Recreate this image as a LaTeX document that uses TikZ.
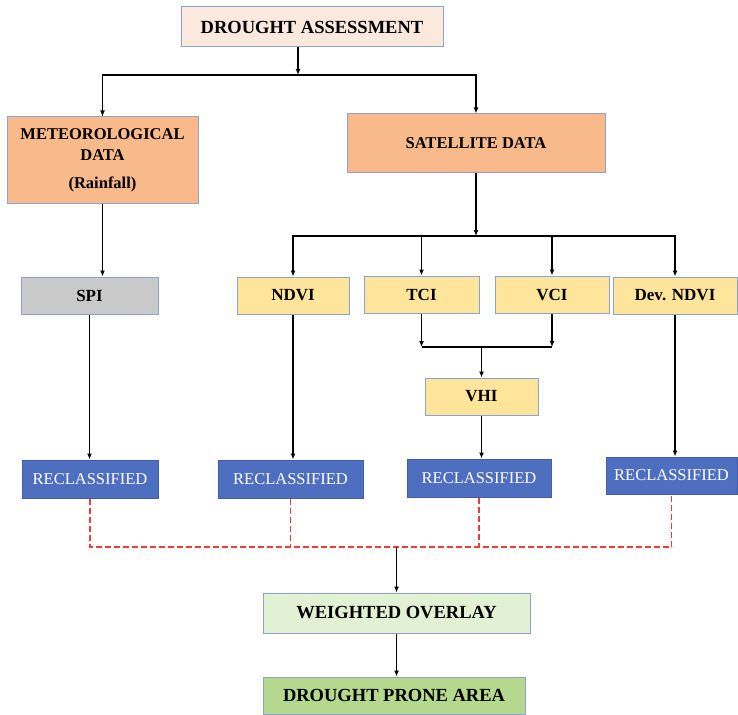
\documentclass[tikz,border=0pt]{standalone}
\usepackage{fontspec}
\setmainfont{Liberation Serif}
\usetikzlibrary{arrows.meta,calc}
\definecolor{edgeBlue}{HTML}{8EA2D0}
\definecolor{peach}{HTML}{FCE9DE}
\definecolor{orange}{HTML}{F8B98B}
\definecolor{stone}{HTML}{C9C9C9}
\definecolor{butter}{HTML}{FFE59B}
\definecolor{reclBlue}{HTML}{4E6EC0}
\definecolor{reclEdge}{HTML}{3F5DA8}
\definecolor{mint}{HTML}{E2F1D4}
\definecolor{leaf}{HTML}{B3D88E}
\definecolor{dashRed}{HTML}{EE3B3B}

\begin{document}
\begin{tikzpicture}[
  x=1pt, y=-1pt,
  box/.style={
    rectangle, draw=edgeBlue, line width=1pt,
    inner sep=2pt, align=center,
    font=\bfseries\fontsize{17}{21}\selectfont
  },
  headBox/.style={box, fill=peach, font=\bfseries\fontsize{18.5}{22}\selectfont},
  dataBox/.style={box, fill=orange, font=\bfseries\fontsize{16.5}{21}\selectfont},
  indexBox/.style={box, fill=butter, minimum height=37},
  reclBox/.style={
    box, fill=reclBlue, draw=reclEdge, text=white,
    minimum height=38,
    font=\fontsize{16.5}{20}\selectfont
  },
  resultBox/.style={box, font=\bfseries\fontsize{18.5}{22}\selectfont},
  flow/.style={-{Latex[length=6pt,width=5pt]}, line width=1.6pt, draw=black},
  link/.style={line width=1.6pt, draw=black},
  dashLink/.style={line width=1.6pt, draw=dashRed, dash pattern=on 6pt off 3pt}
]

% Fix the page to the full canvas
\useasboundingbox (0,0) rectangle (738,714);

% Top of the chart
\node[headBox, minimum width=262, minimum height=40] (da) at (312,27) {DROUGHT ASSESSMENT};

% Data sources
\node[dataBox, minimum width=191, minimum height=86] (met) at (102.5,160) {%
  METEOROLOGICAL\\ DATA\\[7pt] (Rainfall)};
\node[dataBox, minimum width=258, minimum height=59] (sat) at (476,143.5) {SATELLITE DATA};

% Indices
\node[box, fill=stone, minimum width=137, minimum height=37] (spi) at (89.5,295.5) {SPI};
\node[indexBox, minimum width=112] (ndvi) at (293,295.5) {NDVI};
\node[indexBox, minimum width=115] (tci) at (421.5,294.5) {TCI};
\node[indexBox, minimum width=114] (vci) at (552,294.5) {VCI};
\node[indexBox, minimum width=124] (dev) at (675,295.5) {Dev. NDVI};
\node[indexBox, minimum width=113] (vhi) at (481.5,396.5) {VHI};

% Reclassified layers
\node[reclBox, minimum width=136] (rc1) at (90,479) {RECLASSIFIED};
\node[reclBox, minimum width=145] (rc2) at (290.5,479) {RECLASSIFIED};
\node[reclBox, minimum width=144] (rc3) at (479,478) {RECLASSIFIED};
\node[reclBox, minimum width=131, minimum height=37] (rc4) at (671.5,475.5) {RECLASSIFIED};

% Overlay and result
\node[resultBox, fill=mint, minimum width=267, minimum height=40] (wo) at (396.5,613) {WEIGHTED OVERLAY};
\node[resultBox, fill=leaf, minimum width=262, minimum height=37] (dpa) at (394,695.5) {DROUGHT PRONE AREA};

% Junction points
\coordinate (fork1) at (298,75);
\coordinate (fork2) at (476,236);
\coordinate (merge) at (481.5,347);
\coordinate (pool) at (396.5,547);

% Split into the two data sources
\draw[flow] (da.south -| fork1) -- (fork1);
\draw[link] (fork1) -| (met.north);
\draw[flow] (met.north |- fork1) -- (met.north);
\draw[flow] (fork1) -| (sat.north);

% Satellite branches
\draw[flow] (sat.south) -- (fork2);
\draw[flow] (fork2) -| (ndvi.north);
\draw[flow] (fork2) -| (tci.north);
\draw[flow] (fork2) -| (vci.north);
\draw[flow] (fork2) -| (dev.north);
\draw[flow] (met.south) -- (spi.north -| met.south);

% TCI and VCI combine into VHI
\draw[flow] (tci.south) -- (tci.south |- merge);
\draw[flow] (vci.south) -- (vci.south |- merge);
\draw[link] (tci.south |- merge) -- (vci.south |- merge);
\draw[flow] (merge) -- (vhi.north);

% Down to the reclassified layers
\draw[flow] (spi.south) -- (spi.south |- rc1.north);
\draw[flow] (ndvi.south) -- (ndvi.south |- rc2.north);
\draw[flow] (vhi.south) -- (vhi.south |- rc3.north);
\draw[flow] (dev.south) -- (dev.south |- rc4.north);

% Dashed collector
\draw[dashLink] (rc1.south) -- (rc1.south |- pool) -- (rc4.south |- pool) -- (rc4.south);
\draw[dashLink] (rc2.south) -- (rc2.south |- pool);
\draw[dashLink] (rc3.south) -- (rc3.south |- pool);

% Overlay steps
\draw[flow] (pool) -- (wo.north);
\draw[flow] (wo.south) -- (wo.south |- dpa.north);

\end{tikzpicture}
\end{document}
